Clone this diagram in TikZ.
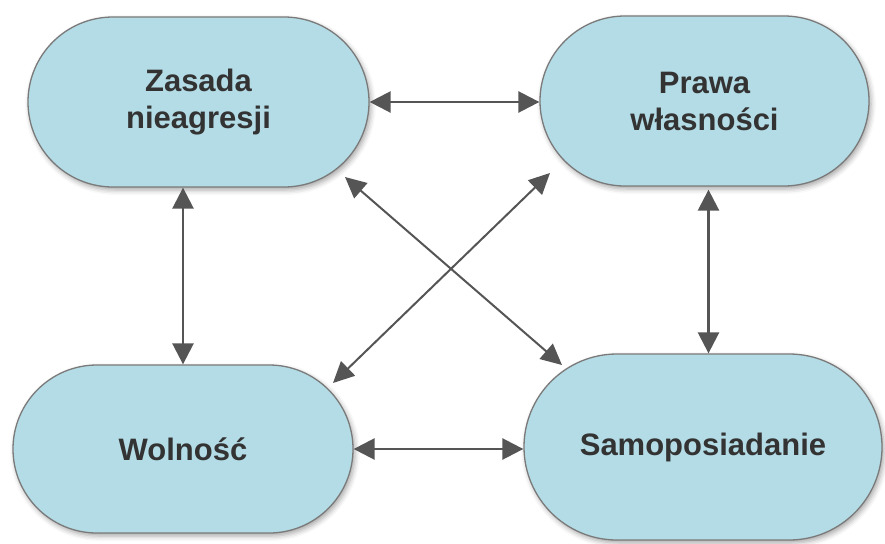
\documentclass[tikz,border=0pt]{standalone}
\usepackage{fontspec}
\setmainfont{Liberation Sans}
\usetikzlibrary{arrows.meta,shadows.blur,calc}
\definecolor{boxfill}{HTML}{B4DCE6}
\definecolor{boxline}{HTML}{7A7A7A}
\definecolor{txt}{HTML}{333333}
\definecolor{arr}{HTML}{555555}
\begin{document}
\begin{tikzpicture}[x=1pt,y=-1pt,
  pill/.style={draw=boxline, line width=1.3pt, fill=boxfill, align=center,
    text=txt, font=\fontsize{31}{37}\selectfont\bfseries,
    blur shadow={shadow xshift=2pt, shadow yshift=-3pt, shadow blur radius=5pt, shadow opacity=35}},
  link/.style={draw=arr, line width=2.6pt, {Triangle[length=21pt,width=21pt]}-{Triangle[length=21pt,width=21pt]}},
  dlink/.style={draw=arr, line width=2pt, {Triangle[length=21pt,width=20pt]}-{Triangle[length=21pt,width=20pt]}}
]
\useasboundingbox (0,0) rectangle (885,543);
\node[pill, minimum width=341pt, minimum height=170pt, rounded corners=85pt] (z) at (198.5,102) {Zasada\\nieagresji};
\node[pill, minimum width=329pt, minimum height=170pt, rounded corners=85pt] (p) at (704.5,101) {Prawa\\własności};
\node[pill, minimum width=340pt, minimum height=168pt, rounded corners=84pt] (w) at (183,449) {Wolność};
\node[pill, minimum width=358pt, minimum height=186pt, rounded corners=93pt] (s) at (703,447) {Samoposiadanie};

\coordinate (d1a) at (345,177);
\coordinate (d1b) at (562,365);
\coordinate (d2a) at (550,173);
\coordinate (d2b) at (333,383);

\draw[link] (z.east) -- (z.east -| p.west);
\draw[link] (w.east) -- (w.east -| s.west);
\draw[link] (z.south -| w.north) -- (w.north);
\draw[link] ($(p.south)+(4,3)$) -- ($(p.south |- s.north)+(4,0)$);
\draw[dlink] (d1a) -- (d1b);
\draw[dlink] (d2a) -- (d2b);
\end{tikzpicture}
\end{document}
